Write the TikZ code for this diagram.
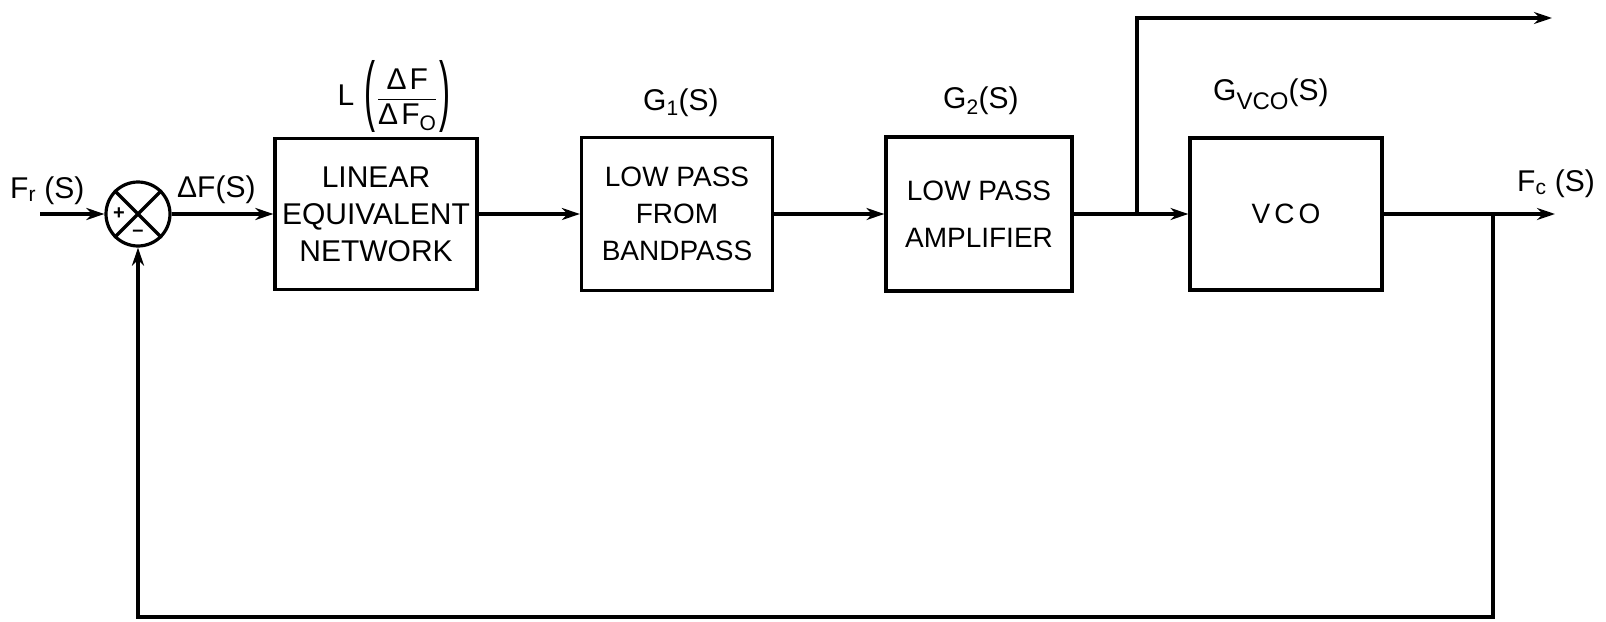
\documentclass[tikz,border=0pt]{standalone}
\usepackage{fontspec}
\setmainfont{Liberation Sans}
\usetikzlibrary{arrows.meta}
\newcommand{\tallparen}[1]{\raisebox{-27pt}{\resizebox*{11pt}{72pt}{\raisebox{\depth}{#1}}}}
\begin{document}
\begin{tikzpicture}[x=1pt,y=-1pt,
 wire/.style={line width=3.2pt},
 arr/.style={wire,-{Stealth[length=18pt,width=12pt]}},
 blk/.style={draw,line width=3.2pt,align=center,inner sep=0pt,font=\fontsize{28}{37}\selectfont},
 lbl/.style={inner sep=0pt,font=\fontsize{30}{36}\selectfont},
 sumj/.style={draw,circle,line width=3.2pt,minimum size=64pt,inner sep=0pt}]
\useasboundingbox (0,0) rectangle (1606,621);
% summing junction
\node[sumj] (sum) at (138,214) {};
\draw[wire] (sum.45)--(sum.225) (sum.135)--(sum.315);
\node[inner sep=0pt,font=\fontsize{20}{20}\selectfont\bfseries] (plus) at ([xshift=-19pt]sum.center) {+};
\node[inner sep=0pt,font=\fontsize{20}{20}\selectfont\bfseries] (minus) at ([yshift=-19pt]sum.center) {\textendash};
% blocks
\node[blk,minimum width=202pt,minimum height=151pt,font=\fontsize{30}{37}\selectfont] (lin) at (376,214) {LINEAR\\EQUIVALENT\\NETWORK};
\node[blk,minimum width=191pt,minimum height=153pt] (lpb) at (677,214) {LOW PASS\\FROM\\BANDPASS};
\node[blk,minimum width=186pt,minimum height=154pt,font=\fontsize{28}{47}\selectfont] (amp) at (979,214) {LOW PASS\\AMPLIFIER};
\node[blk,minimum width=192pt,minimum height=152pt] (vco) at (1286,214) {V\kern4pt C\kern4pt O};
% connectors
\coordinate (in) at (40,214);
\coordinate (br) at (1137,214);
\coordinate (top) at (1137,18);
\coordinate (topend) at (1552,18);
\coordinate (fb) at (1493,214);
\coordinate (out) at (1555,214);
\coordinate (fbb) at (1493,617);
\coordinate (fbl) at (138,617);
\draw[arr] (in) -- (sum.west);
\draw[arr] (sum.east) -- (lin.west);
\draw[arr] (lin.east) -- (lpb.west);
\draw[arr] (lpb.east) -- (amp.west);
\draw[wire] (amp.east) -- (br);
\draw[arr] (br) -- (vco.west);
\draw[arr] (br) -- (top) -- (topend);
\draw[arr] (vco.east) -- (out);
\draw[arr] (fb) -- (fbb) -- (fbl) -- (sum.south);
% labels
\node[lbl,anchor=base west] (fr) at (10,198) {F\textsubscript{r} (S)};
\node[lbl,anchor=base west] (df) at (177,197) {ΔF(S)};
\node[lbl] (ll) at (394,98) {L\hspace{10pt}\tallparen{(}\hspace{3pt}\begin{tabular}{@{}c@{}}Δ\kern3pt F\\[-1pt]\hline Δ\kern3pt F\textsubscript{O}\end{tabular}\hspace{3pt}\tallparen{)}};
\node[lbl,anchor=base west] (g1) at (643,110) {G\textsubscript{1}(S)};
\node[lbl,anchor=base west] (g2) at (943,108) {G\textsubscript{2}(S)};
\node[lbl,anchor=base west] (gv) at (1213,100) {G\raisebox{-9pt}{\fontsize{24}{24}\selectfont VCO}(S)};
\node[lbl,anchor=base west] (fc) at (1517,191) {F\textsubscript{c} (S)};
\end{tikzpicture}
\end{document}
